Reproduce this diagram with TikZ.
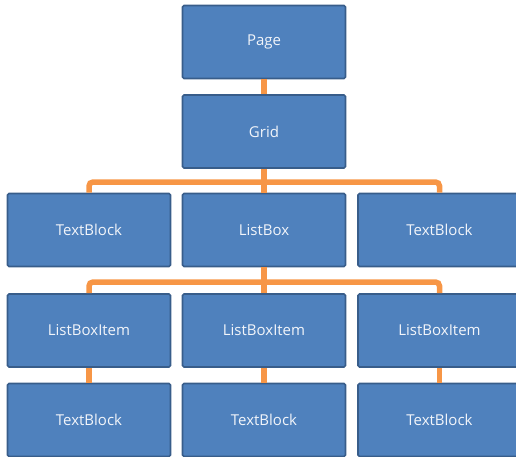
\documentclass[tikz,border=0pt]{standalone}
\usepackage{fontspec}
\setmainfont{Open Sans}
\definecolor{boxfill}{HTML}{4F81BD}
\definecolor{boxedge}{HTML}{385D8A}
\definecolor{wire}{HTML}{F79646}
\definecolor{label}{HTML}{F2F5FA}
\begin{document}
\begin{tikzpicture}[x=1pt,y=-1pt,
  blk/.style={draw=boxedge, line width=1.6pt, fill=boxfill, rounded corners=1.5pt,
    minimum width=163pt, minimum height=73pt, inner sep=0pt,
    text=label, font=\fontsize{15}{17}\selectfont},
  link/.style={draw=wire, line width=5.5pt, rounded corners=4pt}]
\useasboundingbox (0,0) rectangle (516,456);
% junction points of the two buses
\coordinate (busA) at (264,182);
\coordinate (busB) at (264,282);
% boxes
\node[blk] (page) at (264,42) {Page};
\node[blk] (grid) at (264,131.5) {Grid};
\node[blk] (tbL) at (89,230) {TextBlock};
\node[blk] (lbox) at (264,230) {ListBox};
\node[blk] (tbR) at (439.5,230) {TextBlock};
\node[blk] (liL) at (89,330.5) {ListBoxItem};
\node[blk] (liM) at (264,330.5) {ListBoxItem};
\node[blk] (liR) at (439.5,330.5) {ListBoxItem};
\node[blk] (tL) at (89,420) {TextBlock};
\node[blk] (tM) at (264,420) {TextBlock};
\node[blk] (tR) at (439.5,420) {TextBlock};
% wiring
\begin{scope}[link]
  \draw (page.south) -- (grid.north);
  \draw (grid.south) -- (lbox.north);
  \draw (tbL.north) |- (busA) -| (tbR.north);
  \draw (lbox.south) -- (liM.north);
  \draw (liL.north) |- (busB) -| (liR.north);
  \draw (liL.south) -- (tL.north);
  \draw (liM.south) -- (tM.north);
  \draw (liR.south) -- (tR.north);
\end{scope}
\end{tikzpicture}
\end{document}
